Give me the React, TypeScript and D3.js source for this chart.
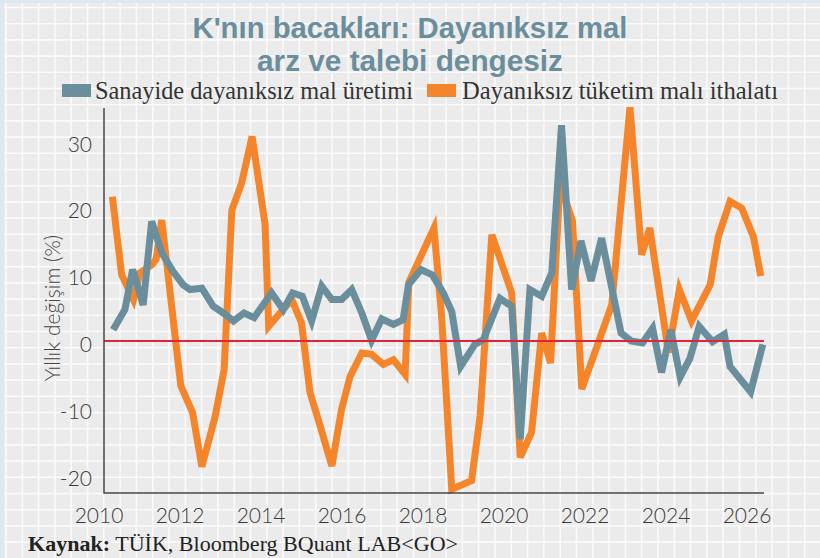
import * as d3 from "d3";

// Sanayide dayanıksız mal üretimi (yıllık %)
const prodDates = [
  2010.35, 2010.64, 2010.83, 2011.09, 2011.3, 2011.55, 2011.83, 2012.08, 2012.25, 2012.54,
  2012.82, 2013.07, 2013.32, 2013.58, 2013.83, 2014.26, 2014.55, 2014.78, 2015.02, 2015.25,
  2015.5, 2015.75, 2015.99, 2016.24, 2016.49, 2016.73, 2016.98, 2017.27, 2017.51, 2017.64,
  2017.95, 2018.23, 2018.5, 2018.71, 2018.93, 2019.28, 2019.49, 2019.9, 2020.19, 2020.4,
  2020.64, 2020.93, 2021.18, 2021.42, 2021.67, 2021.9, 2022.15, 2022.41, 2022.89, 2023.14,
  2023.42, 2023.67, 2023.89, 2024.12, 2024.35, 2024.59, 2024.82, 2025.15, 2025.44, 2025.58,
  2026.09, 2026.39,
];
const prodValues = [
  1.7, 4.7, 10.7, 5.4, 17.9, 13.2, 10.4, 8.4, 7.7, 7.9,
  5.2, 4.2, 3.0, 4.2, 3.5, 7.2, 4.7, 7.2, 6.7, 3.0,
  8.2, 6.2, 6.2, 7.7, 4.2, 0.1, 3.3, 2.5, 3.2, 8.4,
  10.7, 9.9, 7.2, 4.4, -3.8, -0.5, 0.2, 6.4, 5.2, -14.7,
  7.7, 6.7, 10.2, 32.3, 7.7, 15.0, 9.0, 15.4, 1.2, 0.0,
  -0.3, 1.9, -4.7, 1.7, -5.4, -2.6, 2.2, -0.1, 1.0, -3.8,
  -7.6, -0.5,
];

// Dayanıksız tüketim malı ithalatı (yıllık %)
const importDates = [
  2010.33, 2010.56, 2010.85, 2011.01, 2011.3, 2011.41, 2011.55, 2012.02, 2012.31, 2012.54,
  2012.86, 2013.09, 2013.28, 2013.52, 2013.78, 2014.1, 2014.19, 2014.47, 2014.76, 2015.0,
  2015.21, 2015.46, 2015.75, 2015.99, 2016.2, 2016.49, 2016.73, 2017.02, 2017.27, 2017.56,
  2017.65, 2018.27, 2018.46, 2018.71, 2019.2, 2019.41, 2019.7, 2020.19, 2020.4, 2020.68,
  2020.93, 2021.15, 2021.38, 2021.69, 2021.92, 2022.66, 2023.11, 2023.4, 2023.6, 2024.06,
  2024.33, 2024.63, 2025.09, 2025.29, 2025.58, 2025.87, 2026.16, 2026.34,
];
const importValues = [
  21.6, 9.9, 6.2, 10.2, 11.4, 12.2, 18.1, -6.7, -10.7, -18.8,
  -11.5, -4.3, 19.6, 23.6, 30.6, 17.5, 2.2, 4.2, 6.2, 2.7,
  -7.7, -12.7, -18.7, -10.2, -5.3, -1.8, -2.0, -3.5, -2.8, -5.0,
  8.8, 16.9, 3.7, -22.2, -20.9, -11.2, 15.9, 7.2, -17.4, -13.7,
  1.2, -3.3, 23.6, 18.0, -7.2, 5.4, 35.0, 12.9, 16.9, -1.7,
  7.7, 3.0, 8.4, 15.6, 20.9, 19.9, 15.6, 9.7,
];

const yTicks = [-20, -10, 0, 10, 20, 30];
const xTicks = [2010, 2012, 2014, 2016, 2018, 2020, 2022, 2024, 2026];

const W = 820;
const H = 558;
const plot = { left: 104, right: 764, top: 108, bottom: 493 };

const blue = "#6b8e9d";
const orange = "#f5852b";
const sans = "Lato, 'Open Sans', sans-serif";
const serif = "'Liberation Serif', 'DejaVu Serif', serif";

export default function App() {
  const x = d3.scaleLinear().domain([2010.1235, 2026.4198]).range([plot.left, plot.right]);
  const y = d3.scaleLinear().domain([-22.75, 34.88]).range([plot.bottom, plot.top]);

  const line = d3
    .line<[number, number]>()
    .x((d) => x(d[0]))
    .y((d) => y(d[1]));

  const prod = d3.zip(prodDates, prodValues) as [number, number][];
  const imports = d3.zip(importDates, importValues) as [number, number][];

  // background graph-paper grid
  const gridX = d3.range(6, W, 16.3);
  const gridY = d3.range(7.5, H, 16.2);

  return (
    <svg width={W} height={H} style={{ position: "absolute", left: 0, top: 0 }}>
      <rect width={W} height={H} fill="#ebebeb" />
      {gridX.map((gx) => (
        <line key={"gx" + gx} x1={gx} x2={gx} y1={0} y2={H} stroke="#fafafa" strokeWidth={1.6} />
      ))}
      {gridY.map((gy) => (
        <line key={"gy" + gy} x1={0} x2={W} y1={gy} y2={gy} stroke="#fafafa" strokeWidth={1.6} />
      ))}
      <rect width={4} height={H} fill="#dde8ef" />
      <rect width={W} height={3} fill="#dde8ef" />

      {/* title */}
      <g fill={blue} fontFamily="'Liberation Sans Narrow', 'Liberation Sans', sans-serif" fontWeight="bold" fontSize={29} textAnchor="middle">
        <text x={410} y={38} textLength={435} lengthAdjust="spacingAndGlyphs">K'nın bacakları: Dayanıksız mal</text>
        <text x={410} y={71} textLength={306} lengthAdjust="spacingAndGlyphs">arz ve talebi dengesiz</text>
      </g>

      {/* legend */}
      <g fontFamily={serif} fontSize={25} fill="#333">
        <rect x={62} y={84} width={29} height={13} fill={blue} />
        <text x={95} y={99} textLength={318} lengthAdjust="spacingAndGlyphs">Sanayide dayanıksız mal üretimi</text>
        <rect x={427} y={84} width={29} height={13} fill={orange} />
        <text x={462} y={99} textLength={316} lengthAdjust="spacingAndGlyphs">Dayanıksız tüketim malı ithalatı</text>
      </g>

      {/* y axis */}
      <g fontFamily={sans} fontWeight={300} fontSize={21} fill="#3a3a3a" textAnchor="end">
        {yTicks.map((t) => (
          <text key={t} x={92} y={y(t) + 11}>{t}</text>
        ))}
      </g>
      <text
        transform={`translate(60,${308}) rotate(-90)`}
        textAnchor="middle"
        fontFamily={sans}
        fontWeight={300}
        fontSize={21}
        fill="#444"
      >
        Yıllık değişim (%)
      </text>

      {/* x axis */}
      <g fontFamily={sans} fontWeight={300} fontSize={21} fill="#3a3a3a" textAnchor="middle">
        {xTicks.map((t) => (
          <text key={t} x={x(t)} y={523}>{t}</text>
        ))}
      </g>

      {/* series */}
      <path d={line(imports) ?? ""} fill="none" stroke={orange} strokeWidth={7} />
      <path d={line(prod) ?? ""} fill="none" stroke={blue} strokeWidth={7} />

      {/* zero line */}
      <line x1={plot.left} x2={plot.right} y1={y(0)} y2={y(0)} stroke="#e0243a" strokeWidth={2} />

      {/* axis frame */}
      <path
        d={`M${plot.left},${plot.top}V${plot.bottom}H${plot.right}`}
        fill="none"
        stroke="#444"
        strokeWidth={1.5}
      />

      {/* source */}
      <text x={28} y={551} fontFamily={serif} fontSize={22} fill="#222" textLength={430} lengthAdjust="spacingAndGlyphs">
        <tspan fontWeight="bold">Kaynak:</tspan>
        <tspan> TÜİK, Bloomberg BQuant LAB&lt;GO&gt;</tspan>
      </text>
    </svg>
  );
}
